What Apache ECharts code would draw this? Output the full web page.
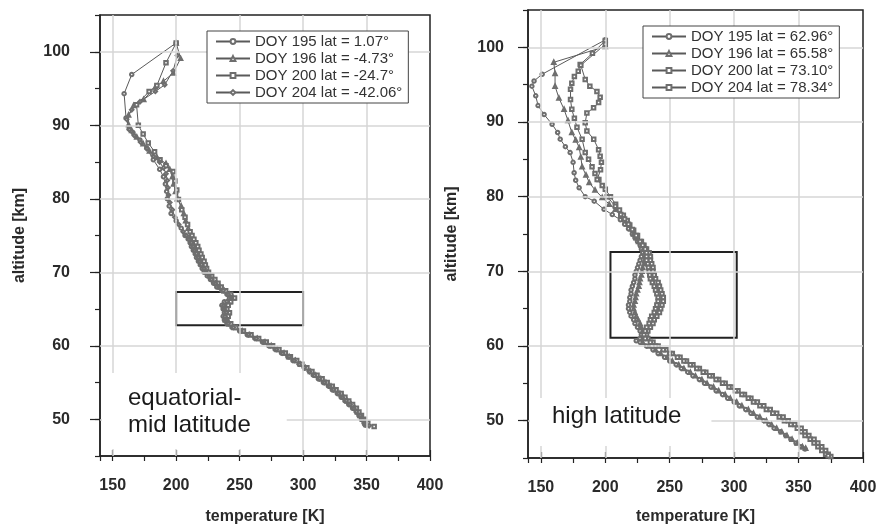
<!DOCTYPE html>
<html>
<head>
<meta charset="utf-8">
<script src="https://cdn.jsdelivr.net/npm/echarts@6/dist/echarts.min.js"></script>
<style>
  html, body { margin: 0; padding: 0; background: #fff; }
  #chart { width: 884px; height: 526px; }
</style>
</head>
<body>
<div id="chart"></div>
<script>
// temperature [K], altitude [km] pairs

// equatorial / mid latitude panel
const eqNames = ['DOY 195 lat = 1.07°', 'DOY 196 lat = -4.73°', 'DOY 200 lat = -24.7°', 'DOY 204 lat = -42.06°'];
const eq195 = [[200,101.2],[165,96.9],[159,94.3],[160.5,91],[163,89.6],[166,89],[171.5,88],[176.8,86.9],[182,85.3],[187,84],[190,83],[191.5,82],[192.5,81],[193,80],[194.5,79],[196,78],[200,77],[204,76],[207,75],[209.5,74.5],[211,74],[212,73.5],[213.5,73],[215,72.5],[216,72],[217.5,71.5],[219,71],[220.5,70.5],[222,70],[224.5,69.5],[227,69],[229.5,68.5],[232,68],[236,67.5],[240,67],[242,66.5],[238,66],[236,65.5],[237,65],[238,64.5],[237,64],[238,63.5],[240,63],[244,62.5],[250,62],[256,61.5],[262,61],[268,60.5],[273,60],[278,59.5],[283,59],[288,58.5],[292,58],[297,57.5],[301,57],[305,56.5],[308,56],[312,55.5],[316,55],[320,54.5],[323,54],[327,53.5],[330,53],[333,52.5],[336,52],[339,51.5],[342,51],[344,50.5],[346,50],[348,49.5],[349,49.2]];
const eq196 = [[200,101.2],[203.5,99.1],[197.8,97.1],[190,96],[183.6,95.2],[174.4,93.5],[166.5,92.7],[162.5,91.4],[162.5,90.1],[165,89.3],[169,88.4],[174,87.5],[179,86.5],[185,85.6],[192,84.8],[195,84],[197,83],[198,82],[199.5,81],[201,80],[204,79],[206,78],[207.5,77],[209.5,76],[211.5,75],[213,74.5],[214.5,74],[216,73.5],[217,73],[218.5,72.5],[219.5,72],[221,71.5],[222,71],[223.5,70.5],[225,70],[227,69.5],[229.5,69],[232,68.5],[234.5,68],[238,67.5],[242,67],[245,66.5],[242,66],[240,65.5],[239,65],[241,64.5],[240,64],[239,63.5],[242,63],[246,62.5],[252,62],[258,61.5],[264,61],[270,60.5],[275,60],[280,59.5],[285,59],[289,58.5],[294,58],[298,57.5],[302,57],[306,56.5],[310,56],[314,55.5],[318,55],[322,54.5],[325,54],[329,53.5],[332,53],[335,52.5],[338,52],[341,51.5],[343,51],[345,50.5],[347,50],[349,49.5],[350,49.3]];
const eq200 = [[200,101.2],[192,98.5],[184.8,95.4],[178.7,94.6],[168.8,92.8],[170.2,90],[174,88.8],[178,87.6],[183,86.4],[187.3,85.3],[192,84.5],[197.8,83.7],[199,82.4],[200.5,81.2],[201.8,79.9],[204.4,78.5],[207,77.5],[209,76.5],[211,75.5],[212.5,75],[214,74.5],[215.5,74],[217,73.5],[218,73],[219.5,72.5],[220.5,72],[222,71.5],[223,71],[224,70.5],[225.5,70],[228,69.5],[230.5,69],[233,68.5],[235.5,68],[239,67.5],[243,67],[246,66.5],[243,66],[241,65.5],[240,65],[242,64.5],[241,64],[240,63.5],[243,63],[247,62.5],[253,62],[259,61.5],[265,61],[271,60.5],[276,60],[281,59.5],[286,59],[290,58.5],[295,58],[299,57.5],[303,57],[307,56.5],[311,56],[315,55.5],[319,55],[323,54.5],[326,54],[330,53.5],[333,53],[336,52.5],[339,52],[342,51.5],[344,51],[346,50.5],[348,50],[351,49.5],[356,49]];
const eq204 = [[201,99.5],[197.6,97.4],[191,95.5],[183.6,94.6],[171.5,93.2],[165,92.1],[161,90.8],[163,89.4],[167,88.6],[172,87.7],[177,86.8],[182,85.8],[187,85],[190,84.2],[192,83.4],[193,82.5],[193.5,81.5],[194,80.5],[195,79.5],[197,78.5],[199,77.5],[202,76.5],[205.5,75.5],[208,75],[210,74.5],[212,74],[213.5,73.5],[214.5,73],[216,72.5],[217.5,72],[218.5,71.5],[220,71],[222,70.5],[223.5,70],[226,69.5],[228,69],[231,68.5],[233.5,68],[237,67.5],[241,67],[243.5,66.5],[240,66],[237.5,65.5],[238,65],[239.5,64.5],[238.5,64],[239,63.5],[241,63],[245,62.5],[251,62],[257,61.5],[263,61],[269,60.5],[274,60],[279,59.5],[284,59],[289,58.5],[293,58],[297,57.5],[301,57],[305,56.5],[309,56],[313,55.5],[317,55],[321,54.5],[324,54],[328,53.5],[331,53],[334,52.5],[337,52],[340,51.5],[342,51],[345,50.5],[347,50],[349,49.5],[352,49.1]];
const eqBox = [200, 300, 62.8, 67.3];   // T min, T max, alt min, alt max

// high latitude panel
const hiNames = ['DOY 195 lat = 62.96°', 'DOY 196 lat = 65.58°', 'DOY 200 lat = 73.10°', 'DOY 204 lat = 78.34°'];
const hi195 = [[200,101],[151,96.4],[144.7,95.5],[143,94.8],[146,93.5],[147.8,92.2],[152.5,91],[158.7,89.7],[163,88.6],[165,87.7],[169,86.7],[172.7,85.9],[175,84.6],[175.8,83.2],[177,82.2],[179.7,81.2],[184.4,80],[191.4,79.4],[199,78.3],[205.4,77.6],[211.7,76.9],[215,76.3],[218,75.7],[221,75],[223,74.5],[225,74],[227,73.5],[228,73],[229,72.5],[228,72],[227,71.5],[226,71],[225,70.5],[224,70],[223,69.5],[223,69],[222,68.5],[221,68],[220,67.5],[220,67],[219,66.5],[219,66],[218,65.5],[218,65],[219,64.5],[220,64],[222,63.5],[223,63],[225,62.5],[227,62],[228,61.5],[227,61],[224,60.7],[227,60.5],[232,60],[237,59.5],[241,59],[246,58.5],[250,58],[255,57.5],[259,57],[264,56.5],[268,56],[273,55.5],[277,55],[282,54.5],[286,54],[291,53.5],[295,53],[300,52.5],[304,52],[309,51.5],[313,51],[318,50.5],[323,50],[327,49.5],[331,49],[336,48.5],[340,48],[344,47.5],[348,47],[352,46.5],[355,46.2]];
const hi196 = [[200,100.1],[160,98],[161,96.5],[161,94.8],[164,93.2],[168,91.7],[171,90.2],[174,88.6],[177,87.6],[179.7,86.6],[181,85.3],[182,84],[185,82.9],[187.5,81.9],[192,80.9],[197.6,79.9],[203,79],[207.8,78.3],[212,77.5],[215,77],[218,76.3],[220,75.7],[222,75],[224,74.5],[226,74],[228,73.5],[229.5,73],[230.5,72.5],[231,72],[230.5,71.5],[230,71],[229,70.5],[228.5,70],[228,69.5],[227,69],[226.5,68.5],[226,68],[225,67.5],[224,67],[223.5,66.5],[223,66],[222,65.5],[222,65],[223,64.5],[224,64],[225.5,63.5],[227,63],[228,62.5],[229,62],[230,61.5],[229,61],[229,60.5],[234,60],[239,59.5],[243,59],[248,58.5],[252,58],[257,57.5],[261,57],[266,56.5],[270,56],[275,55.5],[279,55],[284,54.5],[288,54],[293,53.5],[297,53],[302,52.5],[306,52],[311,51.5],[315,51],[320,50.5],[325,50],[329,49.5],[333,49],[337,48.5],[341,48],[345,47.5],[349,47],[353,46.5],[355.5,46.3]];
const hi200 = [[200,100.9],[190,99.2],[180.5,97.7],[179,96.8],[176,96.1],[174,95.2],[173,94.4],[173,93],[174,91.7],[176,90.5],[178,89.3],[182,87.7],[184.4,85.9],[187,85],[189.7,84],[192,83.1],[195,82.3],[200,81],[204,80],[208,79],[211,78.2],[214,77.5],[217,76.8],[219,76.2],[222,75.5],[225,74.8],[228,74],[230,73.5],[232,73],[234,72.5],[235,72],[235,71.5],[236,71],[237,70.5],[237,70],[238,69.5],[239,69],[241,68.5],[242,68],[243,67.5],[244,67],[245,66.5],[245,66],[244,65.5],[243,65],[242,64.5],[240,64],[238,63.5],[237,63],[235,62.5],[233,62],[232,61.5],[233,61],[237,60.5],[241,60],[247,59.5],[252,59],[258,58.5],[263,58],[268,57.5],[273,57],[278,56.5],[283,56],[288,55.5],[293,55],[298,54.5],[303,54],[308,53.5],[313,53],[318,52.5],[323,52],[328,51.5],[333,51],[338,50.5],[342,50],[347,49.5],[352,49],[355,48.5],[358,48],[362,47.5],[365,47],[368,46.5],[371,46],[373,45.5],[375,45.2]];
const hi204 = [[200,100.4],[181,97.6],[184.4,95.7],[188,94.8],[193.5,94.1],[196,93.3],[194.8,92.6],[190.9,91.9],[185.7,91.2],[184.4,89.9],[185.7,88.8],[191,87.7],[194.8,86.3],[196,85.4],[197,84.6],[196.3,83.6],[193.7,82.3],[197.6,81.5],[201.5,80],[207.8,78.7],[212,77.6],[215,77],[218,76.3],[221,75.6],[224,74.8],[227,74],[229,73.5],[231,73],[232,72.5],[232,72],[232,71.5],[233,71],[233.5,70.5],[234,70],[234.5,69.5],[235,69],[236.5,68.5],[238,68],[239,67.5],[240,67],[241,66.5],[241,66],[240,65.5],[239,65],[238,64.5],[236,64],[235,63.5],[234,63],[232,62.5],[231,62],[230,61.5],[231,61],[235,60.5],[239,60],[245,59.5],[250,59],[256,58.5],[261,58],[266,57.5],[271,57],[276,56.5],[281,56],[286,55.5],[291,55],[296,54.5],[301,54],[306,53.5],[311,53],[315,52.5],[320,52],[325,51.5],[330,51],[335,50.5],[339,50],[344,49.5],[349,49],[352,48.5],[355,48],[359,47.5],[362,47],[365,46.5],[368,46],[371,45.5],[373,45.3]];
const hiBox = [204, 302, 61.1, 72.6];

const tempRange = [140, 400];
const altRange = [45, 105];
const tempGrid = [150, 200, 250, 300, 350];
const altGrid = [50, 60, 70, 80, 90, 100];

const FONT = "'Liberation Sans', Arial, sans-serif";
const INK = '#222';
const GRIDLINE = '#d6d6d6';

function mainX(grid, gap) {
    return {
        type: 'value', gridIndex: grid, position: 'bottom',
        min: tempRange[0], max: tempRange[1],
        minInterval: 50, maxInterval: 50,
        name: 'temperature [K]', nameLocation: 'middle', nameGap: gap,
        nameTextStyle: { fontFamily: FONT, fontSize: 16, fontWeight: 'bold', color: '#2a2a2a' },
        axisLine: { show: true, lineStyle: { color: INK, width: 1.5 } },
        axisTick: { show: true, inside: true, length: 6, lineStyle: { color: INK, width: 1.2 } },
        axisLabel: { fontFamily: FONT, fontSize: 16, fontWeight: 'bold', color: '#2a2a2a', margin: 22, showMinLabel: false },
        splitLine: { show: false }
    };
}

function tickX(grid) {
    return {
        type: 'value', gridIndex: grid, position: 'bottom',
        min: tempRange[0], max: tempRange[1],
        minInterval: 25, maxInterval: 25,
        axisLine: { show: false },
        axisTick: { show: true, length: 5, lineStyle: { color: INK, width: 1.2 } },
        axisLabel: { show: false },
        splitLine: { show: false }
    };
}

function mainY(grid, gap, margin) {
    return {
        type: 'value', gridIndex: grid, position: 'left',
        min: altRange[0], max: altRange[1],
        minInterval: 10, maxInterval: 10,
        name: 'altitude [km]', nameLocation: 'middle', nameGap: gap, nameRotate: 90,
        nameTextStyle: { fontFamily: FONT, fontSize: 16, fontWeight: 'bold', color: '#2a2a2a' },
        axisLine: { show: true, lineStyle: { color: INK, width: 1.5 } },
        axisTick: { show: true, length: 10, lineStyle: { color: INK, width: 1.2 } },
        axisLabel: { fontFamily: FONT, fontSize: 16, fontWeight: 'bold', color: '#2a2a2a', margin: margin, showMinLabel: false, showMaxLabel: false },
        splitLine: { show: false }
    };
}

function tickY(grid) {
    return {
        type: 'value', gridIndex: grid, position: 'left',
        min: altRange[0], max: altRange[1],
        minInterval: 5, maxInterval: 5,
        axisLine: { show: false },
        axisTick: { show: true, length: 5, lineStyle: { color: INK, width: 1.2 } },
        axisLabel: { show: false },
        splitLine: { show: false }
    };
}

function profile(name, data, symbol, axis) {
    return {
        type: 'line', name: name, data: data,
        xAxisIndex: axis, yAxisIndex: axis,
        symbol: symbol, symbolSize: 3.5, showAllSymbol: true,
        lineStyle: { color: '#5a5a5a', width: 1 },
        itemStyle: { color: '#6e6e6e', borderWidth: 1 },
        emphasis: { disabled: true },
        z: 3
    };
}

// light grid lines at the labelled ticks, placed through the axes
function gridLines(axis) {
    const lines = tempGrid.map(v => ({ xAxis: v })).concat(altGrid.map(v => ({ yAxis: v })));
    return {
        type: 'line', data: [], xAxisIndex: axis, yAxisIndex: axis, z: 1, silent: true,
        markLine: {
            silent: true, symbol: ['none', 'none'], label: { show: false },
            lineStyle: { color: GRIDLINE, width: 1.5, type: 'solid' },
            emphasis: { disabled: true },
            data: lines
        }
    };
}

function boxArea(box) {
    return {
        silent: true,
        itemStyle: { color: 'rgba(0,0,0,0)', borderColor: INK, borderWidth: 2 },
        data: [[{ xAxis: box[0], yAxis: box[3] }, { xAxis: box[1], yAxis: box[2] }]]
    };
}

function legendAt(left, top, names) {
    return {
        orient: 'vertical', left: left, top: top, data: names, z: 50,
        itemWidth: 34, itemHeight: 6, itemGap: 2,
        padding: [3, 6, 3, 8],
        borderColor: '#444', borderWidth: 1, backgroundColor: '#fff',
        textStyle: { fontFamily: FONT, fontSize: 15, color: '#333' },
        selectedMode: false
    };
}

const eqSeries = [
    profile(eqNames[0], eq195, 'emptyCircle', 0),
    profile(eqNames[1], eq196, 'emptyTriangle', 0),
    profile(eqNames[2], eq200, 'emptyRect', 0),
    profile(eqNames[3], eq204, 'emptyDiamond', 0)
];
eqSeries[0].markArea = boxArea(eqBox);

const hiSeries = [
    profile(hiNames[0], hi195, 'emptyCircle', 2),
    profile(hiNames[1], hi196, 'emptyTriangle', 2),
    profile(hiNames[2], hi200, 'emptyRect', 2),
    profile(hiNames[3], hi204, 'emptyRect', 2)
];
hiSeries[0].markArea = boxArea(hiBox);

const chart = echarts.init(document.getElementById('chart'));
chart.setOption({
    animation: false,
    backgroundColor: '#fff',
    grid: [
        { left: 100, top: 15, width: 330, height: 441, outerBoundsMode: 'none', containLabel: false,
          show: true, borderColor: INK, borderWidth: 1.5, backgroundColor: 'transparent' },
        { left: 528, top: 10, width: 335, height: 448, outerBoundsMode: 'none', containLabel: false,
          show: true, borderColor: INK, borderWidth: 1.5, backgroundColor: 'transparent' }
    ],
    xAxis: [mainX(0, 53), tickX(0), mainX(1, 51), tickX(1)],
    yAxis: [mainY(0, 72, 30), tickY(0), mainY(1, 68, 24), tickY(1)],
    legend: [legendAt(207, 31, eqNames), legendAt(643, 26, hiNames)],
    graphic: [
        { type: 'text', left: 102, top: 373, z: 40, silent: true,
          style: { text: 'equatorial-\nmid latitude', font: '24px ' + FONT, fill: '#1a1a1a', lineHeight: 27,
                   backgroundColor: '#fff', padding: [12, 36, 10, 26] } },
        { type: 'text', left: 530, top: 398, z: 40, silent: true,
          style: { text: 'high latitude', font: '24px ' + FONT, fill: '#1a1a1a',
                   backgroundColor: '#fff', padding: [6, 30, 18, 22] } }
    ],
    series: [gridLines(0), gridLines(2)].concat(eqSeries, hiSeries)
});
</script>
</body>
</html>
